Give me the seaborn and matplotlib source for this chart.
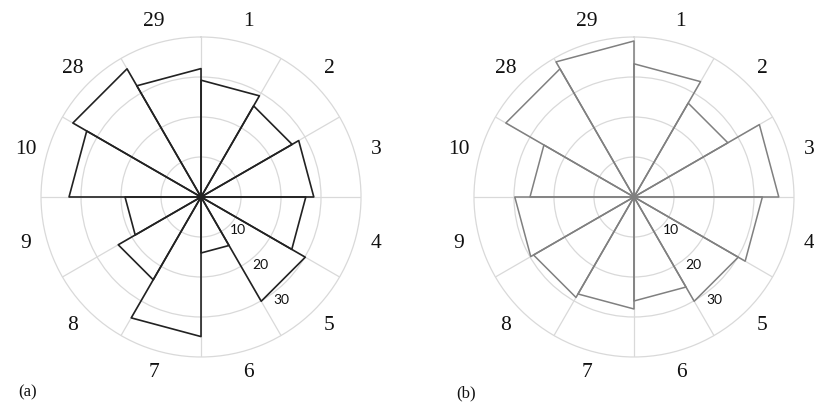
import numpy as np
import pandas as pd
import matplotlib
matplotlib.use("Agg")
import matplotlib.pyplot as plt
import seaborn as sns

# Sector names, clockwise from north, one 30-degree sector each
sectors = ["1", "2", "3", "4", "5", "6", "7", "8", "9", "10", "28", "29"]

# Sector lengths for the two roses
values_a = [29.2, 26.3, 28.2, 26.2, 30.1, 14.0, 34.9, 23.9, 19.0, 33.0, 37.0, 32.1]
values_b = [33.3, 27.1, 36.2, 32.1, 30.1, 26.0, 28.0, 29.0, 29.8, 26.0, 37.0, 39.0]

radial_ticks = [10, 20, 30]
r_max = 40
panel_labels = ["(a)", "(b)"]

sns.set_theme(style="white")
plt.rcParams["font.family"] = ["Liberation Serif", "DejaVu Serif"]


def wedge_table(values):
    """Triangle outline (centre -> edge -> edge -> centre) for each sector."""
    width = 2 * np.pi / len(values)
    rows = []
    for i, (name, v) in enumerate(zip(sectors, values)):
        t0, t1 = i * width, (i + 1) * width
        for t, r in [(t0, 0.0), (t0, v), (t1, v), (t1, 0.0)]:
            rows.append({"sector": name, "theta": t, "r": r})
    return pd.DataFrame(rows)


def draw_rose(ax, values, color, lw):
    ax.set_theta_zero_location("N")
    ax.set_theta_direction(-1)
    grid_c = "#d9d9d9"
    ax.grid(True, color=grid_c, lw=0.9)
    ax.set_axisbelow(True)
    sns.lineplot(data=wedge_table(values), x="theta", y="r", units="sector",
                 estimator=None, sort=False, color=color, lw=lw, ax=ax,
                 legend=False)
    ax.set_xlim(0, 2 * np.pi)
    ax.set_ylim(0, r_max)
    ax.set_yticks(radial_ticks)
    ax.set_yticklabels([])
    ax.set_xticks(np.deg2rad(np.arange(0, 360, 30)))
    ax.set_xticklabels([])
    ax.tick_params(pad=0)
    ax.spines["polar"].set_color(grid_c)
    ax.spines["polar"].set_linewidth(0.9)
    ax.set_xlabel("")
    ax.set_ylabel("")

    width = 2 * np.pi / len(sectors)
    for i, name in enumerate(sectors):
        ax.text((i + 0.5) * width, 45.4, name, ha="center", va="center",
                fontsize=15.5, color="#111111", clip_on=False)

    for k, t in enumerate(radial_ticks):
        ax.annotate(str(t), xy=(np.deg2rad(150), t), xytext=(12.5 + 1.2 * k, 1),
                    textcoords="offset points", ha="center", va="center",
                    fontsize=10, family=["Lato", "DejaVu Sans"], color="#111111")


fig = plt.figure(figsize=(8.14, 4.07), dpi=100)
ax_a = fig.add_axes([0.0504, 0.1229, 0.3931, 0.7862], projection="polar")
ax_b = fig.add_axes([0.5823, 0.1229, 0.3931, 0.7862], projection="polar")

draw_rose(ax_a, values_a, "#222222", 1.2)
draw_rose(ax_b, values_b, "#808080", 1.1)

fig.text(28 / 814, 1 - 392 / 407, panel_labels[0], ha="center", va="center",
         fontsize=12, color="#111111")
fig.text(466 / 814, 1 - 393 / 407, panel_labels[1], ha="center", va="center",
         fontsize=12, color="#111111")

fig.savefig("out.png", dpi=100, facecolor="white")
